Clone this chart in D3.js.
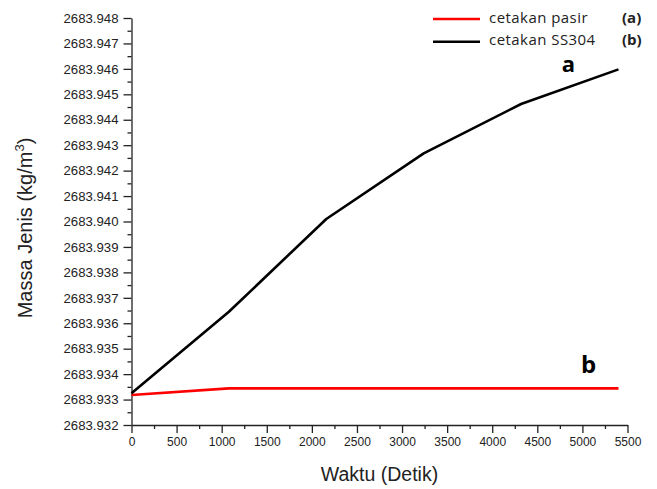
<!DOCTYPE html>
<html>
<head>
<meta charset="utf-8">
<script src="https://cdn.jsdelivr.net/npm/d3@7"></script>
<style>
  body { margin: 0; background: #fff; }
  .axis text { font-family: "Liberation Sans", Arial, sans-serif; fill: #222; }
  .axis path, .axis line { stroke: #222; stroke-width: 1.3px; }
</style>
</head>
<body>
<script>
var svgWidth = 657;
var svgHeight = 489;

var margin = { top: 18, right: 29.5, bottom: 64, left: 131.5 };
var width = svgWidth - margin.left - margin.right;
var height = svgHeight - margin.top - margin.bottom;

// data
var waktu = [0, 1080, 2160, 3240, 4320, 5400];
var ss304 = [2683.93325, 2683.93645, 2683.94010, 2683.94268, 2683.94462, 2683.94598];
var pasir = [2683.93318, 2683.93344, 2683.93344, 2683.93344, 2683.93344, 2683.93344];
var xTicks = [0, 500, 1000, 1500, 2000, 2500, 3000, 3500, 4000, 4500, 5000, 5500];
var yTicks = d3.range(0, 17).map(i => 2683.932 + i * 0.001);
var seriesNames = ["cetakan pasir", "cetakan SS304"];
var seriesTags = ["(a)", "(b)"];
var seriesColors = ["#ff0000", "#000000"];

var svg = d3.select("body")
  .append("svg")
  .attr("width", svgWidth)
  .attr("height", svgHeight);

var chartGroup = svg.append("g")
  .attr("transform", `translate(${margin.left}, ${margin.top})`);

var xScale = d3.scaleLinear().domain([0, 5500]).range([0, width]);
var yScale = d3.scaleLinear().domain([2683.932, 2683.948]).range([height, 0]);

// minor ticks first, then major ones on top
chartGroup.append("g")
  .attr("class", "axis")
  .call(d3.axisLeft(yScale).tickValues(yTicks.slice(0, -1).map(v => v + 0.0005)).tickSize(4).tickFormat(""))
  .select(".domain").remove();

chartGroup.append("g")
  .attr("class", "axis")
  .call(d3.axisLeft(yScale).tickValues(yTicks).tickSize(8).tickPadding(5).tickSizeOuter(0).tickFormat(d3.format(".3f")))
  .selectAll("text").style("font-size", "13.2px");

chartGroup.append("g")
  .attr("class", "axis")
  .attr("transform", `translate(0, ${height})`)
  .call(d3.axisBottom(xScale).tickValues(xTicks.slice(0, -1).map(v => v + 250)).tickSize(4).tickFormat(""))
  .select(".domain").remove();

chartGroup.append("g")
  .attr("class", "axis")
  .attr("transform", `translate(0, ${height})`)
  .call(d3.axisBottom(xScale).tickValues(xTicks).tickSize(8).tickPadding(4).tickSizeOuter(0).tickFormat(d3.format("d")))
  .selectAll("text").style("font-size", "12px");

// lines
var line = d3.line()
  .x((d, i) => xScale(waktu[i]))
  .y(d => yScale(d));

[pasir, ss304].forEach(function(vals, i) {
  chartGroup.append("path")
    .datum(vals)
    .attr("fill", "none")
    .attr("stroke", seriesColors[i])
    .attr("stroke-width", 2.6)
    .attr("stroke-linejoin", "round")
    .attr("d", line);
});

// curve tags
chartGroup.append("text")
  .attr("x", xScale(waktu[5]) - 50)
  .attr("y", yScale(ss304[5]) + 2.5)
  .attr("text-anchor", "middle")
  .style("font-family", "'Open Sans', sans-serif")
  .style("font-weight", "bold")
  .style("font-size", "22px")
  .text("a");

chartGroup.append("text")
  .attr("x", xScale(waktu[5]) - 30)
  .attr("y", yScale(pasir[5]) - 15)
  .attr("text-anchor", "middle")
  .style("font-family", "'Open Sans', sans-serif")
  .style("font-weight", "bold")
  .style("font-size", "24px")
  .text("b");

// legend
var legend = svg.append("g").attr("transform", "translate(433, 19)");
seriesNames.forEach(function(name, i) {
  var g = legend.append("g").attr("transform", `translate(0, ${i * 22.7})`);
  g.append("line")
    .attr("x1", 0).attr("x2", 47)
    .attr("stroke", seriesColors[i])
    .attr("stroke-width", 2.4);
  g.append("text")
    .attr("x", 56).attr("y", 3.5)
    .style("font-family", "'Open Sans', sans-serif")
    .style("font-size", "15px")
    .style("letter-spacing", "0.45px")
    .style("fill", "#222")
    .text(name);
  g.append("text")
    .attr("x", 189).attr("y", 3.5)
    .style("font-family", "'Open Sans', sans-serif")
    .style("font-weight", "bold")
    .style("font-size", "15px")
    .style("fill", "#222")
    .text(seriesTags[i]);
});

// axis labels
svg.append("text")
  .attr("x", margin.left + width / 2)
  .attr("y", 481)
  .attr("text-anchor", "middle")
  .style("font-family", "'Liberation Sans', Arial, sans-serif")
  .style("font-size", "19.5px")
  .style("fill", "#222")
  .text("Waktu (Detik)");

var yLabel = svg.append("text")
  .attr("transform", "translate(32, 228) rotate(-90)")
  .attr("text-anchor", "middle")
  .style("font-family", "'Liberation Sans', Arial, sans-serif")
  .style("font-size", "20px")
  .style("fill", "#222");
yLabel.append("tspan").text("Massa Jenis (kg/m");
yLabel.append("tspan").attr("dy", -8).style("font-size", "13px").text("3");
yLabel.append("tspan").attr("dy", 8).text(")");
</script>
</body>
</html>
